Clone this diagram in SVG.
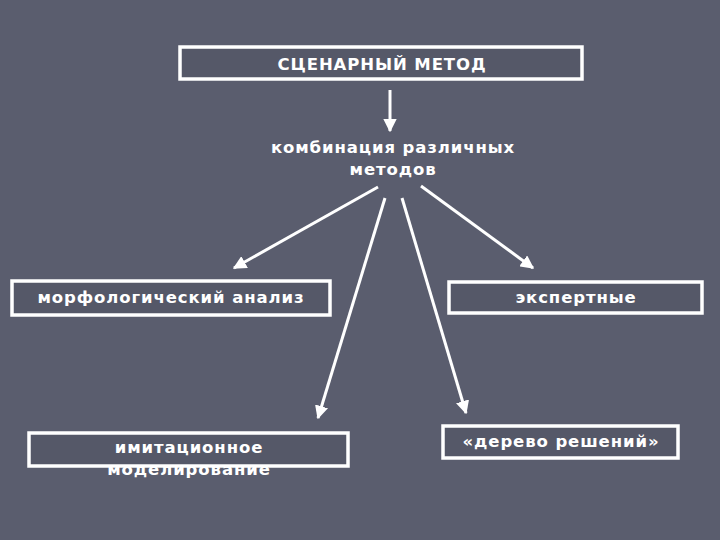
<svg xmlns="http://www.w3.org/2000/svg" width="720" height="540" viewBox="0 0 720 540">
<defs>
<style>
.box{fill:#555868;stroke:#ffffff;stroke-width:3.5}
.t{font-family:"DejaVu Sans",Verdana,sans-serif;font-weight:bold;font-size:16.5px;fill:#ffffff;text-anchor:middle;letter-spacing:0.9px}
.c{stroke:#ffffff;stroke-width:3;fill:none;marker-end:url(#ah)}
</style>
<marker id="ah" viewBox="0 0 10 10" refX="9" refY="5" markerWidth="4.5" markerHeight="4.5" orient="auto" markerUnits="strokeWidth">
<path d="M0,0 L10,5 L0,10 z" fill="#ffffff"/>
</marker>
</defs>
<rect width="720" height="540" fill="#5a5d6e"/>
<g id="connectors">
<line class="c" x1="390" y1="90" x2="390" y2="131"/>
<line class="c" x1="378" y1="187" x2="234" y2="268"/>
<line class="c" x1="421" y1="186" x2="533" y2="268"/>
<line class="c" x1="385" y1="198" x2="318" y2="418"/>
<line class="c" x1="402" y1="198" x2="466" y2="413"/>
</g>
<g id="n-scenario">
<rect class="box" x="180" y="47" width="402" height="32"/>
<text class="t" x="382" y="70">СЦЕНАРНЫЙ МЕТОД</text>
</g>
<g id="n-combination">
<text class="t" x="393" y="153">комбинация различных</text>
<text class="t" x="393" y="175">методов</text>
</g>
<g id="n-morph">
<rect class="box" x="12" y="281" width="318" height="34"/>
<text class="t" x="171" y="303">морфологический анализ</text>
</g>
<g id="n-expert">
<rect class="box" x="449" y="282" width="253" height="31"/>
<text class="t" x="576" y="303">экспертные</text>
</g>
<g id="n-imitation">
<rect class="box" x="29" y="433" width="319" height="33"/>
<text class="t" x="189" y="453">имитационное</text>
<text class="t" x="189" y="475">моделирование</text>
</g>
<g id="n-tree">
<rect class="box" x="443" y="426" width="235" height="32"/>
<text class="t" x="561" y="447">«дерево решений»</text>
</g>
</svg>
